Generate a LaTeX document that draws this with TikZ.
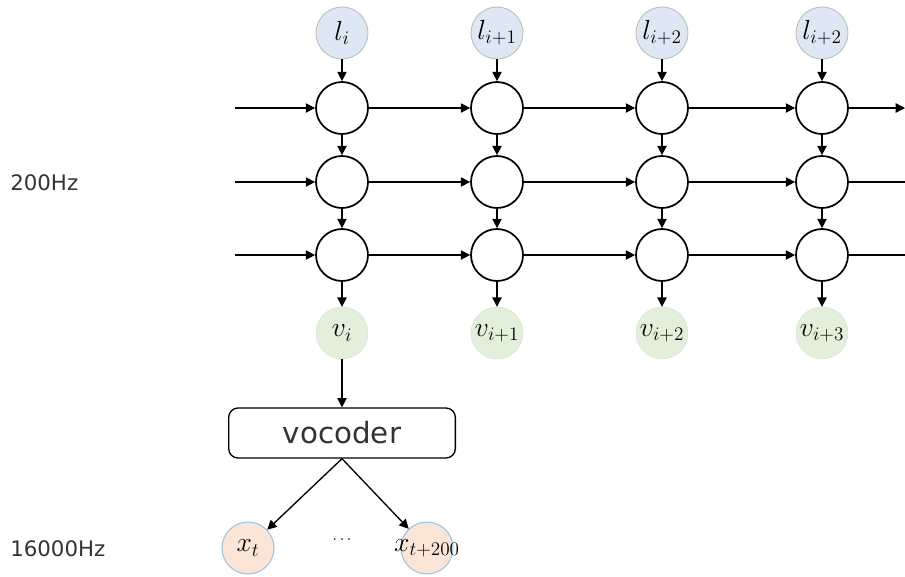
\documentclass[tikz,border=0pt]{standalone}
\usepackage{fontspec}
\setsansfont{DejaVu Sans}
\usetikzlibrary{arrows.meta}
\definecolor{lblue}{HTML}{DEE7F4}
\definecolor{lgreen}{HTML}{E2EFDA}
\definecolor{lpeach}{HTML}{FBE5D6}
\definecolor{bblue}{HTML}{9DC3E6}
\definecolor{txtgray}{HTML}{333333}
\tikzset{
  cell/.style={circle,draw=black,line width=1.3pt,minimum size=39pt,inner sep=0pt,fill=white},
  mfont/.style={font=\fontsize{20}{22}\selectfont},
  inl/.style={circle,draw=gray!55,line width=0.6pt,fill=lblue,minimum size=39pt,inner sep=0pt,mfont},
  outv/.style={circle,draw=lgreen!85!gray,line width=0.3pt,fill=lgreen,minimum size=39pt,inner sep=0pt,mfont},
  outx/.style={circle,draw=bblue,line width=0.8pt,fill=lpeach,minimum size=39pt,inner sep=0pt,mfont},
  conn/.style={line width=1pt,-{Triangle[length=7pt,width=7pt]}},
  freq/.style={font=\sffamily\fontsize{16}{18}\selectfont,text=txtgray,anchor=west,inner sep=0pt},
  vbox/.style={draw=black,line width=1pt,rounded corners=7pt,minimum width=170pt,minimum height=37.5pt,font=\sffamily\fontsize{22}{24}\selectfont,text=txtgray}
}
\begin{document}
\begin{tikzpicture}[x=0.75pt,y=-0.75pt]
\useasboundingbox (0,0) rectangle (905,576);
\foreach \c/\xx in {1/342,2/497,3/662,4/822}{
  \foreach \r/\yy in {1/108,2/182,3/255}{
    \node[cell] (c\c\r) at (\xx,\yy) {};
  }
}
\node[inl] (l1) at (342,33) {$l_i$};
\node[inl] (l2) at (497,33) {$l_{i+1}$};
\node[inl] (l3) at (662,33) {$l_{i+2}$};
\node[inl] (l4) at (822,33) {$l_{i+2}$};
\node[outv] (v1) at (342,333) {$v_i$};
\node[outv] (v2) at (497,333) {$v_{i+1}$};
\node[outv] (v3) at (662,333) {$v_{i+2}$};
\node[outv] (v4) at (822,333) {$v_{i+3}$};
\foreach \r/\yy in {1/108,2/182,3/255}{
  \coordinate (in\r) at (235,\yy);
  \coordinate (out\r) at (905,\yy);
  \draw[conn] (in\r) -- (c1\r);
  \draw[conn] (c1\r) -- (c2\r);
  \draw[conn] (c2\r) -- (c3\r);
  \draw[conn] (c3\r) -- (c4\r);
}
\draw[conn] (c41) -- (out1);
\draw[line width=1pt] (c42) -- (out2);
\draw[line width=1pt] (c43) -- (out3);
\foreach \c in {1,2,3,4}{
  \draw[conn] (l\c) -- (c\c1);
  \draw[conn] (c\c1) -- (c\c2);
  \draw[conn] (c\c2) -- (c\c3);
  \draw[conn] (c\c3) -- (v\c);
}
\node[vbox] (voc) at (342,433) {vocoder};
\draw[conn] (v1) -- (voc);
\node[outx] (x1) at (248,548) {$x_t$};
\node[outx] (x2) at (427,548) {\makebox[0pt]{$x_{t+200}$}};
\node[font=\fontsize{12}{14}\selectfont] (dots) at (342,540) {$\cdots$};
\draw[conn] (voc.south) -- (x1);
\draw[conn] (voc.south) -- (x2);
\node[freq] (f1) at (10,183) {200Hz};
\node[freq] (f2) at (10,549) {16000Hz};
\end{tikzpicture}
\end{document}
